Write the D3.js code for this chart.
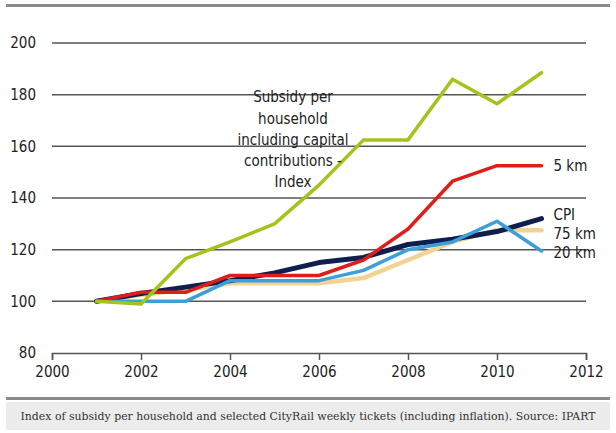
<!DOCTYPE html>
<html>
<head>
<meta charset="utf-8">
<script src="https://cdn.jsdelivr.net/npm/d3@7"></script>
<style>
  body { margin: 0; background: #fff; }
  #chart { width: 616px; height: 433px; }
</style>
</head>
<body>
<div id="chart"></div>
<script>
// Data
const years = [2001, 2002, 2003, 2004, 2005, 2006, 2007, 2008, 2009, 2010, 2011];
const subsidy = [100, 99, 116.5, 123, 130, 145, 162.5, 162.5, 186, 176.5, 188.5];
const km5 = [100, 103.5, 103.5, 110, 110, 110, 116, 128, 146.5, 152.5, 152.5];
const cpi = [100, 103, 105.5, 108, 111, 115, 117, 122, 124, 127, 132];
const km20 = [100, 100, 100, 108, 108, 108, 112, 120, 123, 131, 119.5];
const km75 = [100, 102.5, 104.5, 107, 107, 107, 109, 116, 123, 127.5, 127.5];
const yTicks = [80, 100, 120, 140, 160, 180, 200];
const xTicks = [2000, 2002, 2004, 2006, 2008, 2010, 2012];
const annotation = ["Subsidy per", "household", "including capital", "contributions -", "Index"];
const caption = "Index of subsidy per household and selected CityRail weekly tickets (including inflation). Source: IPART";

const W = 616, H = 433;
const font = "'Liberation Sans Narrow', 'DejaVu Sans Condensed', sans-serif";

const svg = d3.select("#chart").append("svg")
    .attr("width", W)
    .attr("height", H);

// top rule
svg.append("rect").attr("x", 6).attr("y", 4).attr("width", 604).attr("height", 3).attr("fill", "#8a8a8a");

const x = d3.scaleLinear().domain([2000, 2012]).range([52, 586]);
const y = d3.scaleLinear().domain([80, 200]).range([353, 43]);

// gridlines
svg.append("g").selectAll("line")
    .data(yTicks.filter(d => d > 80))
    .enter().append("line")
    .attr("x1", x(2000)).attr("x2", x(2012))
    .attr("y1", d => y(d)).attr("y2", d => y(d))
    .attr("stroke", "#555").attr("stroke-width", 1.5);

// x axis
const xAxis = svg.append("g")
    .attr("transform", "translate(0," + y(80) + ")")
    .call(d3.axisBottom(x).tickValues(xTicks).tickFormat(d3.format("d")).tickSize(7).tickPadding(6));
xAxis.select(".domain").attr("stroke", "#555").attr("stroke-width", 1.5);
xAxis.selectAll(".tick line").attr("stroke", "#555").attr("stroke-width", 1.5);
xAxis.selectAll("text").attr("font-family", font).attr("font-size", 15).attr("fill", "#222");

// y labels
svg.append("g").selectAll("text")
    .data(yTicks)
    .enter().append("text")
    .attr("x", 36).attr("y", d => y(d))
    .attr("dy", "0.35em")
    .attr("text-anchor", "end")
    .attr("font-family", font).attr("font-size", 15).attr("fill", "#222")
    .text(d => d);

const line = d3.line()
    .x((d, i) => x(years[i]))
    .y(d => y(d));

const series = [
    { values: km75, colour: "#f1d394", width: 4.5 },
    { values: cpi, colour: "#0e1f4f", width: 5 },
    { values: km20, colour: "#3b9fda", width: 3.5 },
    { values: km5, colour: "#dc1f1a", width: 3.5 },
    { values: subsidy, colour: "#a6c21c", width: 3.5 }
];

svg.append("g").selectAll("path")
    .data(series)
    .enter().append("path")
    .attr("d", d => line(d.values))
    .attr("fill", "none")
    .attr("stroke", d => d.colour)
    .attr("stroke-width", d => d.width)
    .attr("stroke-linejoin", "round")
    .attr("stroke-linecap", "round");

// end labels
const endLabels = [
    { text: "5 km", v: km5[10], dy: 0 },
    { text: "CPI", v: cpi[10], dy: -4 },
    { text: "75 km", v: km75[10], dy: 3 },
    { text: "20 km", v: km20[10], dy: 2 }
];
svg.append("g").selectAll("text")
    .data(endLabels)
    .enter().append("text")
    .attr("x", x(2011) + 12)
    .attr("y", d => y(d.v) + d.dy)
    .attr("dy", "0.35em")
    .attr("font-family", font).attr("font-size", 15).attr("fill", "#222")
    .text(d => d.text);

// annotation
svg.append("g").selectAll("text")
    .data(annotation)
    .enter().append("text")
    .attr("x", 293)
    .attr("y", (d, i) => 97 + i * 21.3)
    .attr("dy", "0.35em")
    .attr("text-anchor", "middle")
    .attr("font-family", font).attr("font-size", 15).attr("fill", "#222")
    .text(d => d);

// caption band
svg.append("rect").attr("x", 6).attr("y", 397).attr("width", 604).attr("height", 3).attr("fill", "#8a8a8a");
svg.append("rect").attr("x", 6).attr("y", 402).attr("width", 604).attr("height", 28).attr("fill", "#ececec");
svg.append("text")
    .attr("x", 308).attr("y", 416)
    .attr("dy", "0.35em")
    .attr("text-anchor", "middle")
    .attr("font-family", "'DejaVu Serif', 'Liberation Serif', serif")
    .attr("font-size", 10.9).attr("fill", "#333")
    .text(caption);
</script>
</body>
</html>
